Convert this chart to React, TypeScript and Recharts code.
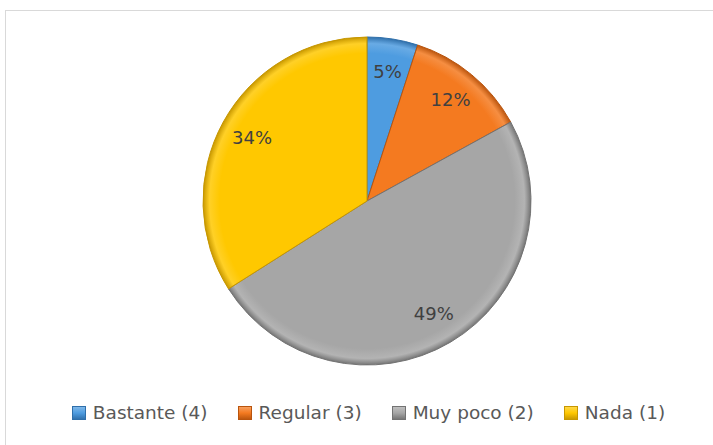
import { Cell, Legend, Pie, PieChart } from "recharts";

const categories = ["Bastante (4)", "Regular (3)", "Muy poco (2)", "Nada (1)"];
const shares = [5, 12, 49, 34];
const colors = ["#4e9ce0", "#f47a20", "#a6a6a6", "#ffc800"];
const darkColors = ["#2f6faa", "#b9540d", "#737373", "#c79700"];

const data = categories.map((name, i) => ({ name, value: shares[i] }));

const FONT = "'DejaVu Sans', sans-serif";
const RADIAN = Math.PI / 180;

function renderLabel(props: any) {
  const { cx, cy, midAngle, outerRadius, value } = props;
  const r = outerRadius * 0.8;
  const x = cx + r * Math.cos(-midAngle * RADIAN);
  const y = cy + r * Math.sin(-midAngle * RADIAN);
  return (
    <text
      x={x}
      y={y}
      fill="#404040"
      fontSize={18}
      fontFamily={FONT}
      textAnchor="middle"
      dominantBaseline="central"
    >
      {`${value}%`}
    </text>
  );
}

function LegendContent() {
  return (
    <div
      style={{
        display: "flex",
        justifyContent: "center",
        fontFamily: FONT,
        fontSize: 18.5,
        color: "#595959",
        paddingLeft: 24,
      }}
    >
      {categories.map((name, i) => (
        <div key={name} style={{ display: "flex", alignItems: "center", marginRight: i < 3 ? 30 : 0 }}>
          <svg width={14} height={14} style={{ marginRight: 7 }}>
            <defs>
              <linearGradient id={`lg${i}`} x1="0" y1="0" x2="0" y2="1">
                <stop offset="0" stopColor={colors[i]} stopOpacity={0.7} />
                <stop offset="0.5" stopColor={colors[i]} />
                <stop offset="1" stopColor={darkColors[i]} />
              </linearGradient>
            </defs>
            <rect x={0.5} y={0.5} width={13} height={13} fill={`url(#lg${i})`} stroke={darkColors[i]} />
          </svg>
          <span>{name}</span>
        </div>
      ))}
    </div>
  );
}

export default function App() {
  return (
    <div
      style={{
        position: "absolute",
        left: 0,
        top: 0,
        width: 713,
        height: 445,
        background: "#fff",
        overflow: "hidden",
      }}
    >
      <div
        style={{
          position: "absolute",
          left: 5,
          top: 10,
          width: 800,
          height: 500,
          border: "1px solid #d9d9d9",
        }}
      />
      <div style={{ position: "absolute", left: 0, top: 0 }}>
        <PieChart width={713} height={445} margin={{ top: 0, right: 0, bottom: 0, left: 0 }}>
          <defs>
            {colors.map((c, i) => (
              <radialGradient
                key={c}
                id={`pg${i}`}
                gradientUnits="userSpaceOnUse"
                cx={367}
                cy={201}
                r={164}
              >
                <stop offset="0" stopColor={c} />
                <stop offset="0.9" stopColor={c} />
                <stop offset="0.96" stopColor={c} stopOpacity={0.85} />
                <stop offset="1" stopColor={darkColors[i]} />
              </radialGradient>
            ))}
          </defs>
          <Pie
            data={data}
            dataKey="value"
            nameKey="name"
            cx={367}
            cy={201}
            outerRadius={164}
            startAngle={90}
            endAngle={-270}
            label={renderLabel}
            labelLine={false}
            isAnimationActive={false}
          >
            {data.map((d, i) => (
              <Cell key={d.name} fill={`url(#pg${i})`} stroke={darkColors[i]} strokeWidth={1} />
            ))}
          </Pie>
          <Legend
            verticalAlign="bottom"
            wrapperStyle={{ top: 402, left: 0, width: 713, bottom: "auto" }}
            content={<LegendContent />}
          />
        </PieChart>
      </div>
    </div>
  );
}
